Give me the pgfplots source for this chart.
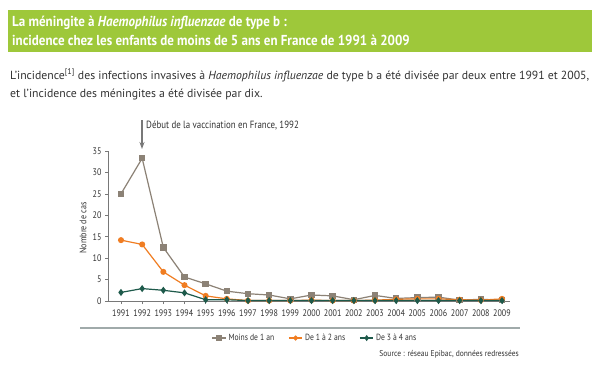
\documentclass[border=0pt]{standalone}
\usepackage{fontspec}
\setmainfont{PT Sans}
\newfontfamily\condfont[FakeStretch=0.85]{PT Sans}
\newfontfamily\srcfont[FakeStretch=0.89]{PT Sans}
\newfontfamily\condbold[FakeStretch=0.9]{PT Sans Bold}
\usepackage{pgfplots}
\usetikzlibrary{arrows.meta}
\pgfplotsset{compat=1.18}
\definecolor{banner}{RGB}{158,200,58}
\definecolor{sgray}{RGB}{140,130,118}
\definecolor{sorange}{RGB}{240,125,34}
\definecolor{sgreen}{RGB}{30,90,75}
\definecolor{axisgray}{RGB}{120,120,120}
\definecolor{darktext}{RGB}{50,50,50}
\definecolor{rulegray}{RGB}{160,170,170}
\begin{document}
\begin{tikzpicture}
\begin{scope}[x=1bp,y=1bp]
\useasboundingbox (0,0) rectangle (600,366);
\fill[white] (0,0) rectangle (600,366);
\fill[banner] (8,314) rectangle (592,356);
\node[anchor=base west, inner sep=0, text=white, font=\condbold\fontsize{14.5}{16}\selectfont] at (12,340) {La méningite à \textit{Haemophilus influenzae} de type b :};
\node[anchor=base west, inner sep=0, text=white, font=\condbold\fontsize{14.5}{16}\selectfont] at (12,321) {incidence chez les enfants de moins de 5 ans en France de 1991 à 2009};
\node[anchor=base west, inner sep=0, text=darktext, font=\fontsize{11.8}{13}\selectfont] at (10,287) {L'incidence\textsuperscript{[1]} des infections invasives à \textit{Haemophilus influenzae} de type b a été divisée par deux entre 1991 et 2005,};
\node[anchor=base west, inner sep=0, text=darktext, font=\fontsize{11.8}{13}\selectfont] at (10,269) {et l'incidence des méningites a été divisée par dix.};
\draw[axisgray, line width=1.2bp, -{Stealth[length=7bp,width=5bp]}] (142,246) -- (142,217);
\node[anchor=base west, inner sep=0, text=darktext, font=\condfont\fontsize{10.5}{12}\selectfont] at (146,238) {Début de la vaccination en France, 1992};
\node[rotate=90, inner sep=0, text=darktext, font=\condfont\fontsize{9.5}{11}\selectfont] at (83,138) {Nombre de cas};
\draw[rulegray, line width=1.5bp] (80,38) -- (520,38);
\node[anchor=base east, inner sep=0, text=darktext, font=\srcfont\fontsize{8.5}{10}\selectfont] at (519,10) {Source : réseau Epibac, données redressées};
\end{scope}
\begin{axis}[
  at={(108bp,65bp)}, anchor=south west, scale only axis,
  width=402bp, height=150bp,
  xmin=1990.386, xmax=2009.378, ymin=0, ymax=35,
  axis x line=bottom, axis y line=left,
  axis line style={draw=axisgray, line width=0.8bp, -},
  xtick={1991,...,2009}, ytick={0,5,...,35},
  tick align=outside, major tick length=3bp,
  tick style={draw=axisgray, line width=0.6bp},
  /pgf/number format/1000 sep={},
  /pgf/number format/assume math mode=true,
  ticklabel style={font=\condfont\fontsize{9.5}{11}\selectfont, text=darktext},
  xticklabel style={yshift=-2bp},
  clip=false,
  legend style={at={(0.515,-0.247)}, anchor=center, draw=none, fill=none,
    font=\condfont\fontsize{9}{10}\selectfont, text=darktext,
    legend columns=3, /tikz/every even column/.append style={column sep=12bp}},
  legend image post style={scale=0.8},
]
\addplot[sgray, line width=1.2bp, mark=square*, mark size=2.6bp, mark options={fill=sgray}] coordinates {
(1991,25.0) (1992,33.3) (1993,12.5) (1994,5.6) (1995,4.0) (1996,2.3) (1997,1.7) (1998,1.4) (1999,0.5) (2000,1.4) (2001,1.2) (2002,0.3) (2003,1.3) (2004,0.6) (2005,0.8) (2006,0.9) (2007,0.2) (2008,0.4) (2009,0.2)};
\addlegendentry{Moins de 1 an}
\addplot[sorange, line width=1.2bp, mark=*, mark size=2.4bp, mark options={fill=sorange}] coordinates {
(1991,14.2) (1992,13.2) (1993,6.8) (1994,3.7) (1995,1.2) (1996,0.5) (1997,0.1) (1998,0.1) (1999,0.1) (2000,0.2) (2001,0.1) (2002,0.1) (2003,0.2) (2004,0.4) (2005,0.5) (2006,0.5) (2007,0.3) (2008,0.2) (2009,0.5)};
\addlegendentry{De 1 à 2 ans}
\addplot[sgreen, line width=1.2bp, mark=diamond*, mark size=2.6bp, mark options={fill=sgreen}] coordinates {
(1991,2.0) (1992,2.9) (1993,2.5) (1994,1.9) (1995,0.3) (1996,0.3) (1997,0.1) (1998,0.1) (1999,0.1) (2000,0.1) (2001,0.1) (2002,0.1) (2003,0.1) (2004,0.1) (2005,0.1) (2006,0.1) (2007,0.1) (2008,0.1) (2009,0.1)};
\addlegendentry{De 3 à 4 ans}
\end{axis}
\end{tikzpicture}
\end{document}
